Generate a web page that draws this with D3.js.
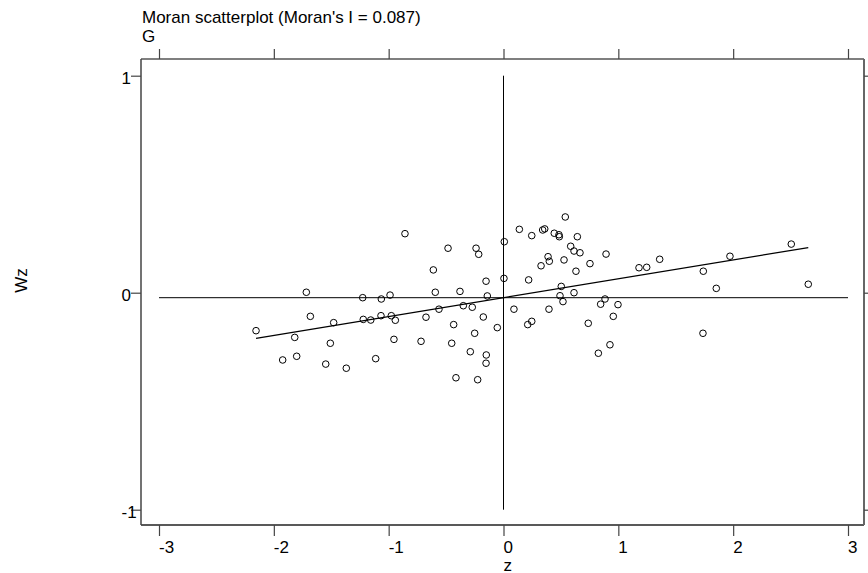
<!DOCTYPE html>
<html>
<head>
<meta charset="utf-8">
<script src="https://cdn.jsdelivr.net/npm/d3@7/dist/d3.min.js"></script>
<style>
  html, body { margin: 0; padding: 0; background: #fff; }
  svg { display: block; }
  text { font-family: "Liberation Sans", Arial, Helvetica, sans-serif; fill: #000; }
</style>
</head>
<body>
<svg id="chart" width="868" height="573"></svg>
<script>
// ---- data ----
const zValues = [
  -1.717, -1.226, -1.064, -0.988, -1.682, -1.479, -1.221, -1.156, -1.067, -0.977,
  -2.155, -1.818, -1.508, -1.923, -1.801, -1.548, -1.369, -1.113, -0.858, -0.483,
  -0.239, -0.216, 0.007, -0.611, -0.152, 0.004, -0.594, -0.379, -0.141, -0.942,
  -0.562, -0.350, -0.272, -0.675, -0.434, -0.176, -0.054, -0.954, -0.718, -0.451,
  -0.251, -0.289, -0.150, -0.152, -0.414, -0.225, 0.538, 0.138, 0.246, 0.341,
  0.359, 0.442, 0.483, 0.486, 0.643, 0.585, 0.614, 0.666, 0.893, 0.388,
  0.399, 0.527, 0.327, 0.753, 0.631, 0.219, 0.503, 0.614, 0.492, 0.518,
  0.884, 0.846, 0.997, 0.956, 0.091, 0.396, 0.211, 0.246, 0.738, 0.826,
  0.927, 1.180, 1.247, 1.360, 1.972, 2.506, 1.740, 1.853, 2.654, 1.737
];
const wzValues = [
  0.002, -0.023, -0.029, -0.011, -0.109, -0.138, -0.123, -0.126, -0.106, -0.106,
  -0.175, -0.206, -0.233, -0.310, -0.293, -0.329, -0.348, -0.304, 0.272, 0.205,
  0.205, 0.177, 0.235, 0.105, 0.053, 0.066, 0.002, 0.006, -0.015, -0.127,
  -0.076, -0.060, -0.067, -0.113, -0.147, -0.112, -0.161, -0.215, -0.224, -0.233,
  -0.187, -0.272, -0.287, -0.325, -0.392, -0.401, 0.349, 0.292, 0.263, 0.289,
  0.294, 0.274, 0.267, 0.258, 0.258, 0.214, 0.192, 0.184, 0.178, 0.166,
  0.145, 0.151, 0.124, 0.134, 0.099, 0.059, 0.029, 0.000, -0.014, -0.041,
  -0.029, -0.053, -0.055, -0.109, -0.076, -0.076, -0.147, -0.132, -0.141, -0.279,
  -0.240, 0.115, 0.117, 0.154, 0.168, 0.224, 0.099, 0.020, 0.039, -0.187
];
const xTicks = [-3, -2, -1, 0, 1, 2, 3];
const yTicks = [-1, 0, 1];
const moranI = 0.087;
const fitIntercept = -0.023;
const meanWz = -0.023;
const meanZ = 0;
const titleLines = ["Moran scatterplot (Moran's I = 0.087)", "G"];
const xLabel = "z";
const yLabel = "Wz";

// ---- layout ----
const svg = d3.select("#chart");
const box = { left: 141, right: 864, top: 59, bottom: 525 };
const x = d3.scaleLinear().domain([-3, 3]).range([159, 848]);
const y = d3.scaleLinear().domain([-1, 1]).range([509.7, 75.7]);
const fontSize = 17;
const fmt = d => String(d); // plain hyphen-minus like the reference

// reference lines
svg.append("line")
  .attr("x1", x(-3)).attr("x2", x(3))
  .attr("y1", y(meanWz)).attr("y2", y(meanWz))
  .attr("stroke", "#000").attr("stroke-width", 1);
svg.append("line")
  .attr("x1", x(meanZ)).attr("x2", x(meanZ))
  .attr("y1", y(1)).attr("y2", y(-1))
  .attr("stroke", "#000").attr("stroke-width", 1);

// fitted line over range of z
const zExt = d3.extent(zValues);
svg.append("line")
  .attr("x1", x(zExt[0])).attr("x2", x(zExt[1]))
  .attr("y1", y(fitIntercept + moranI * zExt[0]))
  .attr("y2", y(fitIntercept + moranI * zExt[1]))
  .attr("stroke", "#000").attr("stroke-width", 1.2);

// points
const pts = zValues.map((z, i) => ({ z, wz: wzValues[i] }));
svg.append("g").selectAll("circle").data(pts).join("circle")
  .attr("cx", d => x(d.z)).attr("cy", d => y(d.wz))
  .attr("r", 3.3)
  .attr("fill", "none").attr("stroke", "#000").attr("stroke-width", 1);

// frame
svg.append("line").attr("x1", box.left).attr("x2", box.right).attr("y1", box.top).attr("y2", box.top)
  .attr("stroke", "#000").attr("stroke-width", 1.2);
svg.append("line").attr("x1", box.left).attr("x2", box.right).attr("y1", box.bottom).attr("y2", box.bottom)
  .attr("stroke", "#222").attr("stroke-width", 1.4);
svg.append("line").attr("x1", box.left).attr("x2", box.left).attr("y1", box.top).attr("y2", box.bottom)
  .attr("stroke", "#444").attr("stroke-width", 1.5);
svg.append("line").attr("x1", box.right).attr("x2", box.right).attr("y1", box.top).attr("y2", box.bottom)
  .attr("stroke", "#666").attr("stroke-width", 2);

// axes
function styleAxis(g) {
  g.select(".domain").remove();
  g.selectAll(".tick line").attr("stroke", "#444").attr("stroke-width", 1.2);
  g.selectAll(".tick text").attr("font-size", fontSize).attr("font-family", null);
}
const gx = svg.append("g").attr("transform", `translate(0,${box.bottom})`)
  .call(d3.axisBottom(x).tickValues(xTicks).tickSize(11).tickFormat(fmt));
styleAxis(gx);
gx.selectAll(".tick text").attr("y", 28).attr("dy", null).attr("x", -0.5).attr("text-anchor", "start");

const gy = svg.append("g").attr("transform", `translate(${box.left},0)`)
  .call(d3.axisLeft(y).tickValues(yTicks).tickSize(10).tickFormat(fmt));
styleAxis(gy);
gy.selectAll(".tick text").attr("x", 121.5 - box.left).attr("dy", null).attr("y", 7.3).attr("text-anchor", "start");

const gt = svg.append("g").attr("transform", `translate(0,${box.top})`)
  .call(d3.axisTop(x).tickValues(xTicks).tickSize(10).tickFormat(""));
styleAxis(gt);

const gr = svg.append("g").attr("transform", `translate(${box.right},0)`)
  .call(d3.axisRight(y).tickValues(yTicks).tickSize(10).tickFormat(""));
styleAxis(gr);

// titles
svg.append("text").attr("x", 142).attr("y", 23.3).attr("font-size", fontSize).text(titleLines[0]);
svg.append("text").attr("x", 142).attr("y", 42).attr("font-size", fontSize).text(titleLines[1]);

// axis labels
svg.append("text").attr("x", x(0)).attr("y", 570.5).attr("font-size", fontSize)
  .attr("text-anchor", "start").text(xLabel);
svg.append("text").attr("transform", `translate(27,${y(0)}) rotate(-90)`)
  .attr("font-size", fontSize).attr("text-anchor", "start").text(yLabel);
</script>
</body>
</html>
